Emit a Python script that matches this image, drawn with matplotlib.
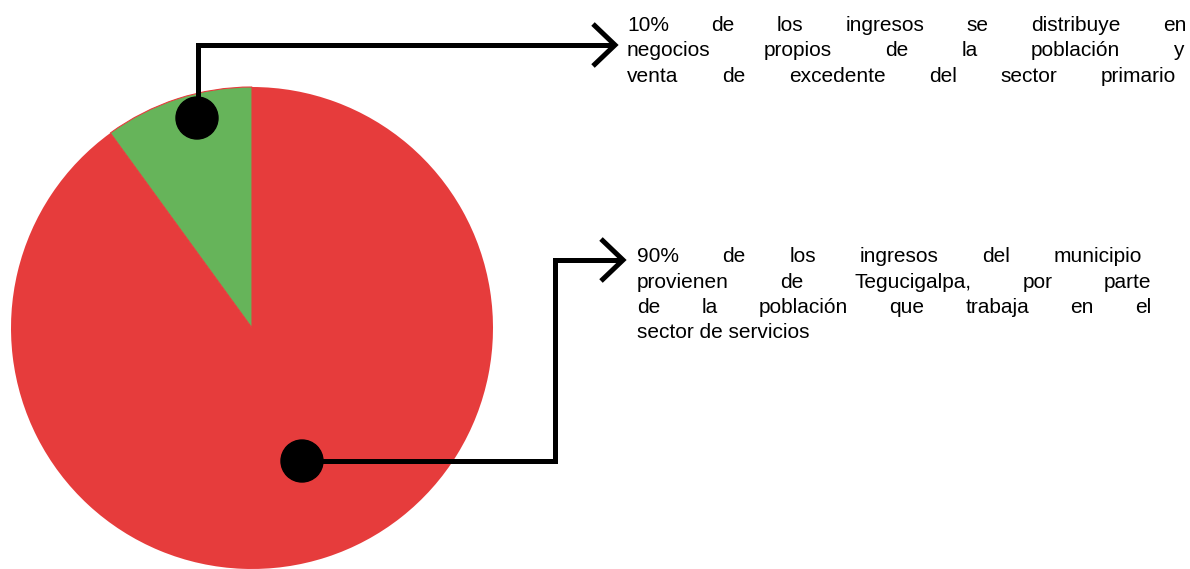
import matplotlib
matplotlib.use("Agg")
import matplotlib.pyplot as plt
from matplotlib.patches import Circle

W, H = 1190, 569

# shares of municipal income
shares = [90, 10]
share_colors = ['#E63C3C', '#66B45A']

# annotation texts, one string per line (justified like the original)
top_lines = [
    "10% de los ingresos se distribuye en",
    "negocios propios de la población y",
    "venta de excedente del sector primario",
]
bottom_lines = [
    "90% de los ingresos del municipio",
    "provienen de Tegucigalpa, por parte",
    "de la población que trabaja en el",
    "sector de servicios",
]

def P(py):
    # pixel row (from top) -> data y
    return H - py

fig = plt.figure(figsize=(W / 100, H / 100), dpi=100)
ax = fig.add_axes([0, 0, 1, 1])

wedges, _ = ax.pie(shares, colors=share_colors, startangle=90, counterclock=False,
                   center=(252, P(328)), radius=241,
                   wedgeprops=dict(linewidth=0))
wedges[1].set_edgecolor(share_colors[0])
wedges[1].set_linewidth(0.8)

ax.set_aspect('auto')
ax.set_xlim(0, W)
ax.set_ylim(0, H)
ax.axis('off')

lw = 3.6
line_kw = dict(color='black', lw=lw, solid_joinstyle='miter', solid_capstyle='butt', zorder=4)

# top connector
ax.plot([198, 198, 614], [P(118), P(45), P(45)], **line_kw)
ax.plot([593, 615, 593], [P(24), P(45), P(66)], **line_kw)
ax.add_patch(Circle((197, P(118)), 21, color='black', zorder=5))

# bottom connector
ax.plot([302, 555, 555, 621], [P(461), P(461), P(260), P(260)], **line_kw)
ax.plot([601, 623, 601], [P(239), P(260), P(281)], **line_kw)
ax.add_patch(Circle((302, P(461)), 21, color='black', zorder=5))

fig.canvas.draw()
renderer = fig.canvas.get_renderer()
font_kw = dict(family='Liberation Sans', fontsize=15, color='black', va='baseline', ha='left')


def justified(lines, left, rights, baselines):
    for line, right, base in zip(lines, rights, baselines):
        words = line.split()
        if right is None or len(words) < 2:
            # last line stays left aligned
            ax.text(left, P(base), line, **font_kw)
            continue
        texts = [ax.text(left, P(base), w, **font_kw) for w in words]
        widths = [t.get_window_extent(renderer).width for t in texts]
        gap = (right - left - sum(widths)) / (len(words) - 1)
        x = left
        for t, w in zip(texts, widths):
            t.set_x(x)
            x += w + gap


justified(top_lines, 627, [1186, 1184, 1176], [31, 56, 82])
justified(bottom_lines, 637, [1142, 1151, 1151, None], [262, 288, 313, 338])

fig.savefig('out.png', dpi=100, facecolor='white')
